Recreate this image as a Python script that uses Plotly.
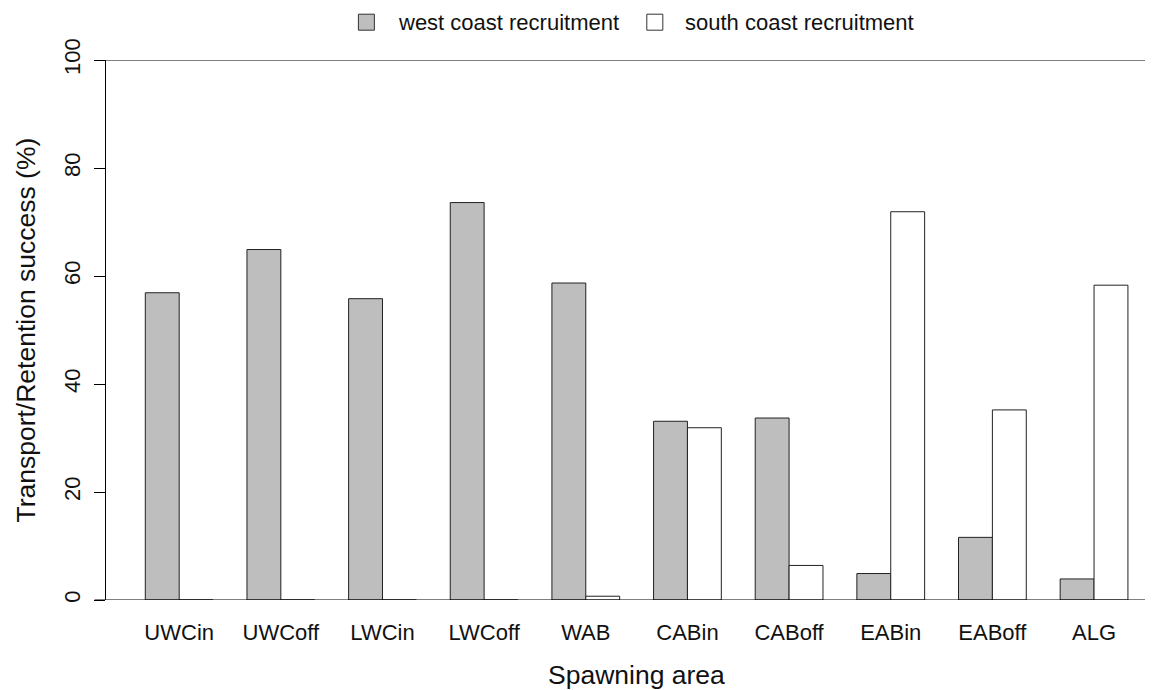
import plotly.graph_objects as go

# ---------------------------------------------------------------- data
areas = ["UWCin", "UWCoff", "LWCin", "LWCoff", "WAB",
         "CABin", "CABoff", "EABin", "EABoff", "ALG"]
west_coast = [56.9, 64.9, 55.8, 73.6, 58.7, 33.1, 33.7, 4.9, 11.6, 3.9]
south_coast = [0.0, 0.0, 0.0, 0.0, 0.7, 31.9, 6.4, 71.9, 35.2, 58.3]
y_ticks = [0, 20, 40, 60, 80, 100]
series_names = ["west coast recruitment", "south coast recruitment"]

# ---------------------------------------------------------------- geometry (screen px)
W, H = 1153, 690
OFF = 8  # page body margin shifts the figure
L, R, T, B = 106.4, 0, 60.3, 89.7
PW, PH = W - L - R, H - T - B
FONT = "Liberation Sans, Arial, Helvetica, sans-serif"
GRAY = "#BEBEBE"


def px_x(x):
    return (x - L) / PW


def px_y(y):
    return (H - B - y) / PH


fig = go.Figure()
fig.add_trace(go.Bar(x=areas, y=west_coast, name=series_names[0],
                     marker=dict(color=GRAY, line=dict(color="#222", width=1)),
                     showlegend=False))
fig.add_trace(go.Bar(x=areas, y=south_coast, name=series_names[1],
                     marker=dict(color="white", line=dict(color="#222", width=1)),
                     showlegend=False))

# horizontal lines at 0 and 100 (start at tick ends)
for yv in (0, 100):
    fig.add_shape(type="line", xref="paper", yref="y", x0=px_x(95), x1=1,
                  y0=yv, y1=yv, line=dict(color="black", width=1))

# manual legend like base R
legend_items = [(358.7, 396, GRAY, series_names[0]), (647, 683, "white", series_names[1])]
for sq_x, tx, col, name in legend_items:
    fig.add_shape(type="rect", xref="paper", yref="paper",
                  x0=px_x(sq_x), x1=px_x(sq_x + 16), y0=px_y(14.5), y1=px_y(30.5),
                  fillcolor=col, line=dict(color="#333", width=1))
    fig.add_annotation(text=name, xref="paper", yref="paper", x=px_x(tx), y=px_y(23),
                       xanchor="left", yanchor="middle", showarrow=False,
                       font=dict(size=22, color="#111", family=FONT))

# axis titles
fig.add_annotation(text="Spawning area", xref="paper", yref="paper",
                   x=px_x(636.8), y=px_y(675), xanchor="center", yanchor="middle",
                   showarrow=False, font=dict(size=26.5, color="#111", family=FONT))
fig.add_annotation(text="Transport/Retention success (%)", xref="paper", yref="paper",
                   x=px_x(26), y=0.5, xanchor="center", yanchor="middle", textangle=-90,
                   showarrow=False, font=dict(size=26.5, color="#111", family=FONT))

fig.update_layout(
    width=W - OFF, height=H - OFF,
    margin=dict(l=L - OFF, r=R, t=T - OFF, b=B, pad=0),
    paper_bgcolor="white", plot_bgcolor="white",
    barmode="group", bargap=1 / 3, bargroupgap=0,
    font=dict(family=FONT, size=22, color="#111"),
    xaxis=dict(range=[-0.72, 9.58], showgrid=False, zeroline=False, showline=False,
               ticks="", tickfont=dict(size=22), ticklabelstandoff=17),
    yaxis=dict(range=[0, 100], tickvals=y_ticks, showgrid=False, zeroline=False,
               showline=True, linecolor="black", linewidth=1,
               ticks="outside", ticklen=11.5, tickcolor="black", tickwidth=1,
               tickangle=-90, tickfont=dict(size=22), ticklabelstandoff=5),
)

fig.write_html("out.html")
